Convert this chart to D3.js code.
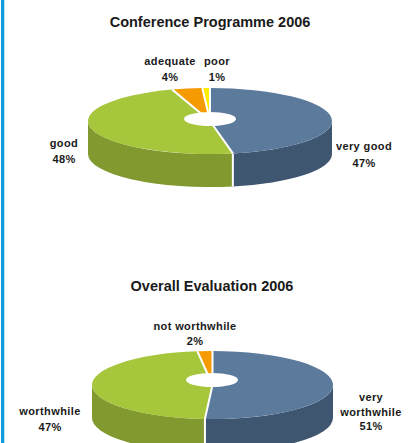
<!DOCTYPE html>
<html>
<head>
<meta charset="utf-8">
<script src="https://cdn.jsdelivr.net/npm/d3@7"></script>
<style>
  html, body { margin: 0; padding: 0; background: #fff; }
  svg { display: block; }
  text { font-family: "Liberation Sans", Arial, sans-serif; font-weight: bold; fill: #1a1a1a; text-anchor: middle; }
  .title { font-size: 14.5px; }
  .label { font-size: 11px; letter-spacing: 0.4px; }
</style>
</head>
<body>
<svg id="chart"></svg>
<script>
// values, percent
var programmeNames = ["very good", "good", "adequate", "poor"];
var programmeValues = [47, 48, 4, 1];
var evaluationNames = ["very worthwhile", "worthwhile", "not worthwhile"];
var evaluationValues = [51, 47, 2];

var sliceColors = {
  blue: ["#5c7a9c", "#3f5671"],
  green: ["#a6c63b", "#81992f"],
  orange: ["#f59a00", "#c47b00"],
  yellow: ["#ffed00", "#ccbe00"]
};

var screen = { //the size of svg
  width: 416,
  height: 443
};

var svg = d3.select("#chart")
            .attr("width", screen.width)
            .attr("height", screen.height);

// blue rule down the left edge
svg.append("rect")
   .attr("x", 1)
   .attr("y", 0)
   .attr("width", 3.3)
   .attr("height", screen.height)
   .attr("fill", "#0e9be0");

var drawPie = function(opts)
{
  var pie = d3.pie().sort(null);
  var slices = pie(opts.values);

  var g = svg.append("g");

  var point = function(a, extra) {
    return [opts.cx + opts.rx * Math.sin(a),
            opts.cy - opts.ry * Math.cos(a) + (extra || 0)];
  };

  // side wall, only the front half of the ellipse shows
  slices.forEach(function(d, i) {
    var a0 = Math.max(d.startAngle, Math.PI / 2);
    var a1 = Math.min(d.endAngle, Math.PI * 3 / 2);
    if (a1 <= a0) { return; }
    var p0 = point(a0), p1 = point(a1);
    var q0 = point(a0, opts.depth), q1 = point(a1, opts.depth);
    var ell = "A" + opts.rx + "," + opts.ry + " 0 0 ";
    var path = "M" + p0 + ell + "1 " + p1 + "L" + q1 + ell + "0 " + q0 + "Z";
    g.append("path")
     .attr("d", path)
     .attr("fill", opts.colors[i][1]);
    // white seam where a slice edge comes round the front
    if (d.startAngle > Math.PI / 2) {
      g.append("line")
       .attr("x1", p0[0]).attr("y1", p0[1])
       .attr("x2", q0[0]).attr("y2", q0[1])
       .attr("stroke", "#fff")
       .attr("stroke-width", 2);
    }
  });

  // top face, a circle squashed into an ellipse
  var arc = d3.arc().innerRadius(0).outerRadius(opts.rx);
  var top = g.append("g")
             .attr("transform", "translate(" + opts.cx + "," + opts.cy + ") scale(1," + (opts.ry / opts.rx) + ")");

  top.selectAll("path")
     .data(slices)
     .enter()
     .append("path")
     .attr("d", arc)
     .attr("fill", function(d, i) {return opts.colors[i][0];});

  // white lines between the slices
  g.selectAll("line.seam")
   .data(slices)
   .enter()
   .append("line")
   .classed("seam", true)
   .attr("x1", opts.cx)
   .attr("y1", opts.cy)
   .attr("x2", function(d) {return point(d.startAngle)[0];})
   .attr("y2", function(d) {return point(d.startAngle)[1];})
   .attr("stroke", "#fff")
   .attr("stroke-width", 2);

  // hole in the middle
  g.append("ellipse")
   .attr("cx", opts.holeX)
   .attr("cy", opts.holeY)
   .attr("rx", 26)
   .attr("ry", 7)
   .attr("fill", "#fff");

  svg.append("text")
     .classed("title", true)
     .attr("x", opts.titleX)
     .attr("y", opts.titleY)
     .text(opts.title);

  opts.labels.forEach(function(l, i) {
    var lines = l.lines.concat([opts.values[l.index] + "%"]);
    svg.append("text")
       .classed("label", true)
       .selectAll("tspan")
       .data(lines)
       .enter()
       .append("tspan")
       .attr("x", l.x)
       .attr("y", function(d, j) {return l.y + j * l.lead;})
       .text(function(d) {return d;});
  });
}

drawPie({
  title: "Conference Programme 2006", titleX: 210, titleY: 27,
  values: programmeValues,
  colors: [sliceColors.blue, sliceColors.green, sliceColors.orange, sliceColors.yellow],
  cx: 210, cy: 121, rx: 122, ry: 33, depth: 33,
  holeX: 210, holeY: 119,
  labels: [
    {index: 0, lines: [programmeNames[0]], x: 364, y: 150, lead: 16.5},
    {index: 1, lines: [programmeNames[1]], x: 64, y: 147, lead: 16},
    {index: 2, lines: [programmeNames[2]], x: 170, y: 65, lead: 16},
    {index: 3, lines: [programmeNames[3]], x: 217, y: 65, lead: 16}
  ]
});

drawPie({
  title: "Overall Evaluation 2006", titleX: 212, titleY: 291,
  values: evaluationValues,
  colors: [sliceColors.blue, sliceColors.green, sliceColors.orange],
  cx: 212.5, cy: 385, rx: 120.5, ry: 34, depth: 33,
  holeX: 212, holeY: 380,
  labels: [
    {index: 0, lines: ["very", "worthwhile"], x: 371, y: 401, lead: 14.5},
    {index: 1, lines: [evaluationNames[1]], x: 50, y: 415, lead: 16},
    {index: 2, lines: [evaluationNames[2]], x: 195, y: 330, lead: 15}
  ]
});
</script>
</body>
</html>
